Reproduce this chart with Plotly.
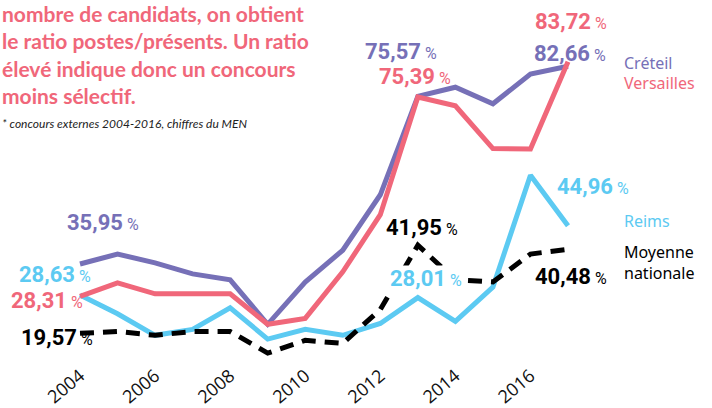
import plotly.graph_objects as go

years = list(range(2004, 2018))
creteil = [35.95, 38.3, 36.2, 33.6, 32.2, 21.7, 31.7, 39.2, 52.3, 75.57, 77.7, 73.8, 80.8, 82.66]
versailles = [28.31, 31.5, 28.9, 28.9, 28.9, 21.7, 23.1, 34.1, 47.6, 75.39, 73.3, 63.2, 63.1, 83.72]
reims = [28.63, 24.2, 19.1, 20.5, 25.6, 18.2, 20.5, 19.1, 21.9, 28.01, 22.4, 30.5, 56.9, 44.96]
moyenne = [19.57, 20.0, 19.1, 20.0, 20.0, 14.9, 17.9, 17.2, 25.2, 40.4, 32.2, 31.7, 38.3, 39.4]
tick_years = [2004, 2006, 2008, 2010, 2012, 2014, 2016]

intro_lines = ["nombre de candidats, on obtient", "le ratio postes/présents. Un ratio",
               "élevé indique donc un concours", "moins sélectif."]
footnote = "* concours externes 2004-2016, chiffres du MEN"

PURPLE = "#7670B7"
PINK = "#F0677A"
BLUE = "#5CCAF2"
BLACK = "#000000"

fig = go.Figure()
fig.add_trace(go.Scatter(x=years, y=reims, mode="lines", line=dict(color=BLUE, width=5), name="Reims"))
fig.add_trace(go.Scatter(x=years, y=moyenne, mode="lines", line=dict(color=BLACK, width=5, dash="14px,9px"), name="Moyenne nationale"))
fig.add_trace(go.Scatter(x=years, y=creteil, mode="lines", line=dict(color=PURPLE, width=5), name="Créteil"))
fig.add_trace(go.Scatter(x=years, y=versailles, mode="lines", line=dict(color=PINK, width=5), name="Versailles"))

NUMFONT = "Roboto, sans-serif"

def lab(v):
    return f"{v:.2f}".replace(".", ",") + "<span style='font-size:16px;font-weight:normal'> %</span>"

# (series values, color, index, xshift, yshift, bg)
labels = [
    (creteil, PURPLE, 0, 23, 41, None),
    (reims, BLUE, 0, -25, 20, None),
    (versailles, PINK, 0, -33, -4, None),
    (moyenne, BLACK, 0, -23, -4, None),
    (creteil, PURPLE, 9, -17, 45, None),
    (versailles, PINK, 9, -3, 21, None),
    (versailles, PINK, 13, 3, 40, None),
    (creteil, PURPLE, 13, 2, 13, None),
    (moyenne, BLACK, 9, 4, 18, None),
    (reims, BLUE, 9, 8, 19, "white"),
    (reims, BLUE, 13, 25, 39, None),
    (moyenne, BLACK, 13, 3, -27, None),
]
label_vals = {id(creteil): {0: 35.95, 9: 75.57, 13: 82.66},
              id(versailles): {0: 28.31, 9: 75.39, 13: 83.72},
              id(reims): {0: 28.63, 9: 28.01, 13: 44.96},
              id(moyenne): {0: 19.57, 9: 41.95, 13: 40.48}}
for series, col, i, dx, dy, bg in labels:
    v = label_vals[id(series)][i]
    fig.add_annotation(x=years[i], y=series[i], xref="x", yref="y", text=lab(v), showarrow=False,
                       xshift=dx, yshift=dy, xanchor="center", yanchor="middle",
                       font=dict(family=NUMFONT, size=22, color=col, weight="bold"),
                       bgcolor=bg if bg else "rgba(0,0,0,0)", borderpad=0)

NAMEFONT = "Noto Sans, Open Sans, sans-serif"
names = [("Créteil", creteil, PURPLE, 3), ("Versailles", versailles, PINK, -21),
         ("Reims", reims, BLUE, 5), ("Moyenne<br>nationale", moyenne, BLACK, -13)]
for txt, series, col, dy in names:
    fig.add_annotation(x=years[-1], y=series[-1], xref="x", yref="y", text=txt, showarrow=False,
                       xshift=54, yshift=dy, xanchor="left", yanchor="middle", align="left",
                       font=dict(family=NAMEFONT, size=16, color=col))

fig.add_annotation(x=0, y=1.0, xref="paper", yref="paper", xanchor="left", yanchor="top",
                   text="<br>".join(intro_lines), showarrow=False, align="left", yshift=1,
                   font=dict(family="Lato, sans-serif", size=21, color=PINK, weight="bold"))
fig.add_annotation(x=0, y=1.0, xref="paper", yref="paper", xanchor="left", yanchor="top",
                   text=f"<i>{footnote}</i>", showarrow=False, align="left", yshift=-114,
                   font=dict(family="Lato, sans-serif", size=12, color="#222222"))

fig.update_layout(
    width=712, height=408, margin=dict(l=0, r=0, t=0, b=43),
    paper_bgcolor="white", plot_bgcolor="white", showlegend=False,
    xaxis=dict(range=[2001.869, 2020.836], tickvals=tick_years, ticktext=[str(t) for t in tick_years],
               tickangle=-40, showgrid=False, zeroline=False, showline=False, ticks="",
               tickfont=dict(family="Open Sans, sans-serif", size=18, color="#111111")),
    yaxis=dict(range=[13.03, 98.31], visible=False, showgrid=False, zeroline=False),
)

fig.write_html("out.html", config={"displayModeBar": False},
               post_script="document.body.style.margin='0';")
